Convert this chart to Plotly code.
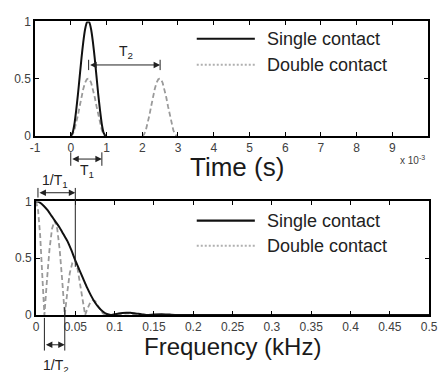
import plotly.graph_objects as go

# ---------------- data ----------------
# Time domain (x in units of 1e-3 s)
t_single = [0, 0.05, 0.1, 0.15, 0.2, 0.25, 0.3, 0.35, 0.4, 0.45, 0.485, 0.52, 0.57,
            0.62, 0.67, 0.72, 0.77, 0.82, 0.87, 0.92, 0.97]
v_single = [0, 0.026, 0.10, 0.22, 0.36, 0.52, 0.68, 0.82, 0.93, 0.99, 1.0, 0.99, 0.93,
            0.82, 0.68, 0.52, 0.36, 0.22, 0.10, 0.026, 0]

t_double = [0, 0.05, 0.1, 0.15, 0.2, 0.25, 0.3, 0.35, 0.4, 0.45, 0.485, 0.52, 0.57,
            0.62, 0.67, 0.72, 0.77, 0.82, 0.87, 0.92, 0.97, None,
            2.0, 2.05, 2.1, 2.15, 2.2, 2.25, 2.3, 2.35, 2.4, 2.45, 2.485, 2.52, 2.57,
            2.62, 2.67, 2.72, 2.77, 2.82, 2.87, 2.92, 2.97]
v_double = [0, 0.013, 0.05, 0.11, 0.18, 0.26, 0.34, 0.41, 0.465, 0.495, 0.5, 0.495, 0.465,
            0.41, 0.34, 0.26, 0.18, 0.11, 0.05, 0.013, 0, None,
            0, 0.013, 0.05, 0.11, 0.18, 0.26, 0.34, 0.41, 0.465, 0.495, 0.5, 0.495, 0.465,
            0.41, 0.34, 0.26, 0.18, 0.11, 0.05, 0.013, 0]

# Frequency domain (kHz)
f_single = [0, 0.005, 0.01, 0.015, 0.02, 0.025, 0.03, 0.035, 0.04, 0.045, 0.05, 0.055,
            0.06, 0.065, 0.07, 0.075, 0.08, 0.085, 0.09, 0.095, 0.1, 0.105, 0.11, 0.115,
            0.12, 0.125, 0.13, 0.135, 0.14, 0.15, 0.16, 0.17, 0.18, 0.5]
s_single = [1.0, 0.99, 0.96, 0.92, 0.87, 0.82, 0.77, 0.71, 0.65, 0.57, 0.48, 0.40,
            0.32, 0.24, 0.17, 0.11, 0.065, 0.03, 0.008, 0.0, 0.006, 0.013, 0.018, 0.02,
            0.019, 0.015, 0.01, 0.005, 0.0, 0.004, 0.006, 0.003, 0.0, 0.0]

f_double = [0, 0.0027, 0.0053, 0.008, 0.0107,
            0.014, 0.0172, 0.0204, 0.0237, 0.027, 0.0302, 0.0334, 0.0366,
            0.0398, 0.043, 0.0463, 0.0496, 0.0528, 0.056, 0.0593, 0.0625,
            0.0657, 0.069, 0.0722, 0.0755, 0.0787, 0.082, 0.085, 0.0884,
            0.095, 0.1, 0.105, 0.112, 0.12, 0.127, 0.135, 0.14, 0.5]
s_double = [1.0, 0.92, 0.70, 0.38, 0.0,
            0.31, 0.58, 0.76, 0.83, 0.76, 0.57, 0.30, 0.0,
            0.20, 0.37, 0.46, 0.48, 0.41, 0.27, 0.13, 0.0,
            0.06, 0.11, 0.13, 0.12, 0.08, 0.04, 0.015, 0.0,
            0.003, 0.004, 0.0, 0.012, 0.015, 0.0, 0.003, 0.0, 0.0]

time_ticks = [-1, 0, 1, 2, 3, 4, 5, 6, 7, 8, 9]
freq_ticks = [0, 0.05, 0.1, 0.15, 0.2, 0.25, 0.3, 0.35, 0.4, 0.45, 0.5]
freq_ticktext = ["0", "0.05", "0.1", "0.15", "0.2", "0.25", "0.3", "0.35", "0.4", "0.45", "0.5"]
y_ticks = [0, 0.5, 1]
y_ticktext = ["0", "0.5", "1"]
series_names = ["Single contact", "Double contact"]

# ---------------- figure ----------------
W, H = 443, 372
FONT = "Arial, Liberation Sans, sans-serif"
BLACK = "#111111"
GRAY = "#9a9a9a"

def px(x):
    return x / W

def py(y):
    return 1 - y / H

fig = go.Figure()
fig.add_trace(go.Scatter(x=t_double, y=v_double, mode="lines", name=series_names[1],
                         line=dict(color=GRAY, width=1.8, dash="5px,3px"),
                         xaxis="x", yaxis="y", showlegend=False))
fig.add_trace(go.Scatter(x=t_single, y=v_single, mode="lines", name=series_names[0],
                         line=dict(color=BLACK, width=2, shape="spline", smoothing=0.6),
                         xaxis="x", yaxis="y", showlegend=False))
fig.add_trace(go.Scatter(x=f_double, y=s_double, mode="lines", name=series_names[1],
                         line=dict(color=GRAY, width=1.8, dash="5px,3px"),
                         xaxis="x2", yaxis="y2", showlegend=False))
fig.add_trace(go.Scatter(x=f_single, y=s_single, mode="lines", name=series_names[0],
                         line=dict(color=BLACK, width=2, shape="spline", smoothing=0.6),
                         xaxis="x2", yaxis="y2", showlegend=False))

axis_common = dict(showline=True, linecolor="black", linewidth=1.6, mirror="ticks",
                   ticks="inside", ticklen=4, tickwidth=1, tickcolor="black",
                   showgrid=False, zeroline=False, ticklabeloverflow="allow",
                   tickfont=dict(family=FONT, size=12, color="#404040"))

fig.update_layout(
    width=W, height=H, margin=dict(l=0, r=0, t=0, b=0),
    paper_bgcolor="white", plot_bgcolor="white", showlegend=False,
    xaxis=dict(domain=[px(31), px(437)], range=[-1, 10], tickvals=time_ticks,
               ticktext=[str(v) for v in time_ticks], anchor="y", **axis_common),
    yaxis=dict(domain=[py(134), py(15)], range=[0, 1], tickvals=y_ticks,
               ticktext=y_ticktext, anchor="x", **axis_common),
    xaxis2=dict(domain=[px(32), px(438)], range=[0, 0.5], tickvals=freq_ticks,
                ticktext=freq_ticktext, anchor="y2", **axis_common),
    yaxis2=dict(domain=[py(320), py(202)], range=[0, 1], tickvals=y_ticks,
                ticktext=y_ticktext, anchor="x2", **axis_common),
)

shapes = []
annots = []

# ----- legends (drawn manually) -----
for (y1, y2) in [(33, 60), (222, 248)]:
    shapes.append(dict(type="line", xref="paper", yref="paper", x0=px(198), x1=px(258),
                       y0=py(y1), y1=py(y1), line=dict(color=BLACK, width=2.2)))
    shapes.append(dict(type="line", xref="paper", yref="paper", x0=px(198), x1=px(258),
                       y0=py(y2), y1=py(y2), line=dict(color="#b0b0b0", width=2, dash="2px,2px")))
    annots.append(dict(xref="paper", yref="paper", x=px(269), y=py(y1), text=series_names[0],
                       showarrow=False, xanchor="left", yanchor="middle",
                       font=dict(family=FONT, size=18, color="#222")))
    annots.append(dict(xref="paper", yref="paper", x=px(269), y=py(y2), text=series_names[1],
                       showarrow=False, xanchor="left", yanchor="middle",
                       font=dict(family=FONT, size=18, color="#222")))

# ----- axis titles -----
annots.append(dict(xref="paper", yref="paper", x=px(240), y=py(166), text="Time (s)",
                   showarrow=False, xanchor="center", yanchor="middle",
                   font=dict(family=FONT, size=26, color="#1a1a1a")))
annots.append(dict(xref="paper", yref="paper", x=px(421), y=py(159), text="x 10<sup>-3</sup>",
                   showarrow=False, xanchor="center", yanchor="middle",
                   font=dict(family=FONT, size=10, color="#404040")))
annots.append(dict(xref="paper", yref="paper", x=px(235), y=py(353), text="Frequency (kHz)",
                   showarrow=False, xanchor="center", yanchor="middle",
                   font=dict(family=FONT, size=24, color="#1a1a1a")))

AC = "#222222"
arrow_style = dict(showarrow=True, arrowside="end+start", arrowhead=2, startarrowhead=2,
                   arrowsize=1.3, startarrowsize=1.3, arrowwidth=1, arrowcolor=AC,
                   standoff=0, startstandoff=0, text="")
lab_font = dict(family=FONT, size=14, color="#222")

# T2 (top plot, data coordinates)
annots.append(dict(xref="x", yref="y", x=2.5, y=0.62, axref="x", ayref="y", ax=0.5, ay=0.62,
                   **arrow_style))
for xv in [0.5, 2.5]:
    shapes.append(dict(type="line", xref="x", yref="y", x0=xv, x1=xv, y0=0.575, y1=0.665,
                       line=dict(color=AC, width=1)))
annots.append(dict(xref="x", yref="y", x=1.55, y=0.73, text="T<sub>2</sub>", showarrow=False,
                   font=lab_font))

# T1 (below top plot)
annots.append(dict(xref="x", yref="paper", x=0.87, y=py(158), axref="x", ayref="pixel",
                   ax=0, ay=0, **arrow_style))
for xv in [0, 0.87]:
    shapes.append(dict(type="line", xref="x", yref="paper", x0=xv, x1=xv, y0=py(151), y1=py(165),
                       line=dict(color=AC, width=1)))
annots.append(dict(xref="x", yref="paper", x=0.45, y=py(170), text="T<sub>1</sub>",
                   showarrow=False, font=lab_font))

# 1/T1 (above bottom plot)
annots.append(dict(xref="x2", yref="paper", x=0.05, y=py(193), axref="x2", ayref="pixel",
                   ax=0.0025, ay=0, **arrow_style))
shapes.append(dict(type="line", xref="x2", yref="paper", x0=0.0025, x1=0.0025, y0=py(188), y1=py(198),
                   line=dict(color=AC, width=1)))
shapes.append(dict(type="line", xref="x2", yref="paper", x0=0.05, x1=0.05, y0=py(188), y1=py(270),
                   line=dict(color=AC, width=1)))
annots.append(dict(xref="x2", yref="paper", x=0.024, y=py(181), text="1/T<sub>1</sub>",
                   showarrow=False, font=lab_font))

# 1/T2 (below bottom plot)
annots.append(dict(xref="x2", yref="paper", x=0.0366, y=py(351), axref="x2", ayref="pixel",
                   ax=0.0107, ay=0, **arrow_style))
shapes.append(dict(type="line", xref="x2", yref="paper", x0=0.0107, x1=0.0107, y0=py(323), y1=py(357),
                   line=dict(color=AC, width=1)))
shapes.append(dict(type="line", xref="x2", yref="paper", x0=0.0366, x1=0.0366, y0=py(312), y1=py(357),
                   line=dict(color=AC, width=1)))
annots.append(dict(xref="x2", yref="paper", x=0.025, y=py(362), text="1/T<sub>2</sub>",
                   showarrow=False, yanchor="top", font=lab_font))

fig.update_layout(shapes=shapes, annotations=annots)
fig.write_html("out.html")
